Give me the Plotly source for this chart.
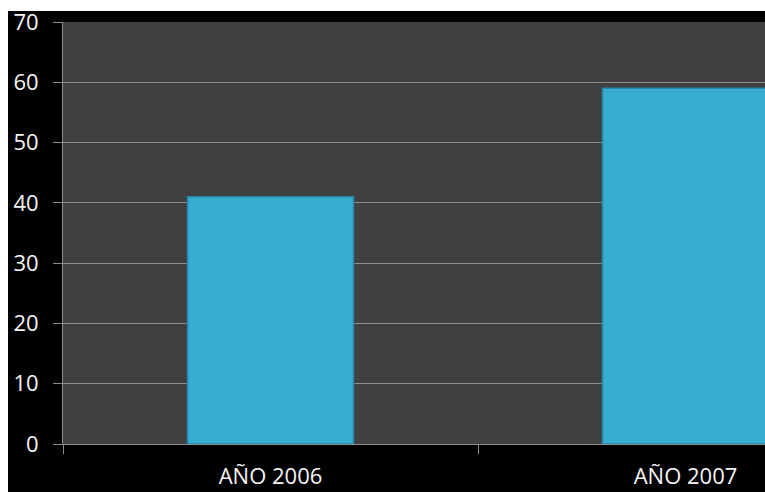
import plotly.graph_objects as go

categories = ["AÑO 2006", "AÑO 2007"]
values = [41, 59]
y_ticks = [0, 10, 20, 30, 40, 50, 60, 70]

W, H = 765, 492
ML, MT, MB, MR = 63, 22, 48, 0
plot_w = W - ML - MR
plot_h = H - MT - MB
cat_px = 415.0  # pixel width of a category slot
x_pos = list(range(len(categories)))
x_range = [-0.5, plot_w / cat_px - 0.5]

grid = "#8c8c8c"
font = dict(family="Open Sans", size=22, color="#f5f5f5")

fig = go.Figure()
fig.add_trace(go.Bar(
    x=x_pos, y=values, width=0.4,
    marker=dict(color="#37ADD1", line=dict(color="#2787A6", width=1.5)),
    hoverinfo="skip",
))

fig.update_layout(
    width=W, height=H,
    margin=dict(l=ML, r=MR, t=MT, b=MB, pad=0, autoexpand=False),
    paper_bgcolor="#000000",
    plot_bgcolor="#404040",
    showlegend=False,
    xaxis=dict(
        range=x_range, tickmode="array", tickvals=x_pos, ticktext=categories,
        ticks="", showgrid=False, zeroline=False, automargin=False,
        showline=True, linecolor=grid, linewidth=1,
        tickfont=font, ticklabelstandoff=13,
        minor=dict(tickmode="array", tickvals=[-0.5, 0.5, 1.5], ticks="outside",
                   ticklen=9, tickcolor=grid, tickwidth=1, showgrid=False),
    ),
    yaxis=dict(
        range=[0, 70], tickmode="array", tickvals=y_ticks, automargin=False,
        ticks="outside", ticklen=9, tickcolor=grid, tickwidth=1,
        showgrid=True, gridcolor=grid, gridwidth=1, zeroline=False,
        showline=True, linecolor=grid, linewidth=1,
        tickfont=font, ticklabelstandoff=10,
    ),
    shapes=[
        dict(type="rect", xref="paper", yref="paper", layer="above",
             x0=-ML / plot_w - 0.01, x1=(8 - ML) / plot_w,
             y0=-MB / plot_h - 0.01, y1=(H - MB + 1) / plot_h + 0.01,
             fillcolor="white", line=dict(width=0)),
        dict(type="rect", xref="paper", yref="paper", layer="above",
             x0=-ML / plot_w - 0.01, x1=1.01,
             y0=(H - MB - 11) / plot_h, y1=(H - MB) / plot_h + 0.01,
             fillcolor="white", line=dict(width=0)),
    ],
)

fig.write_html("out.html")
